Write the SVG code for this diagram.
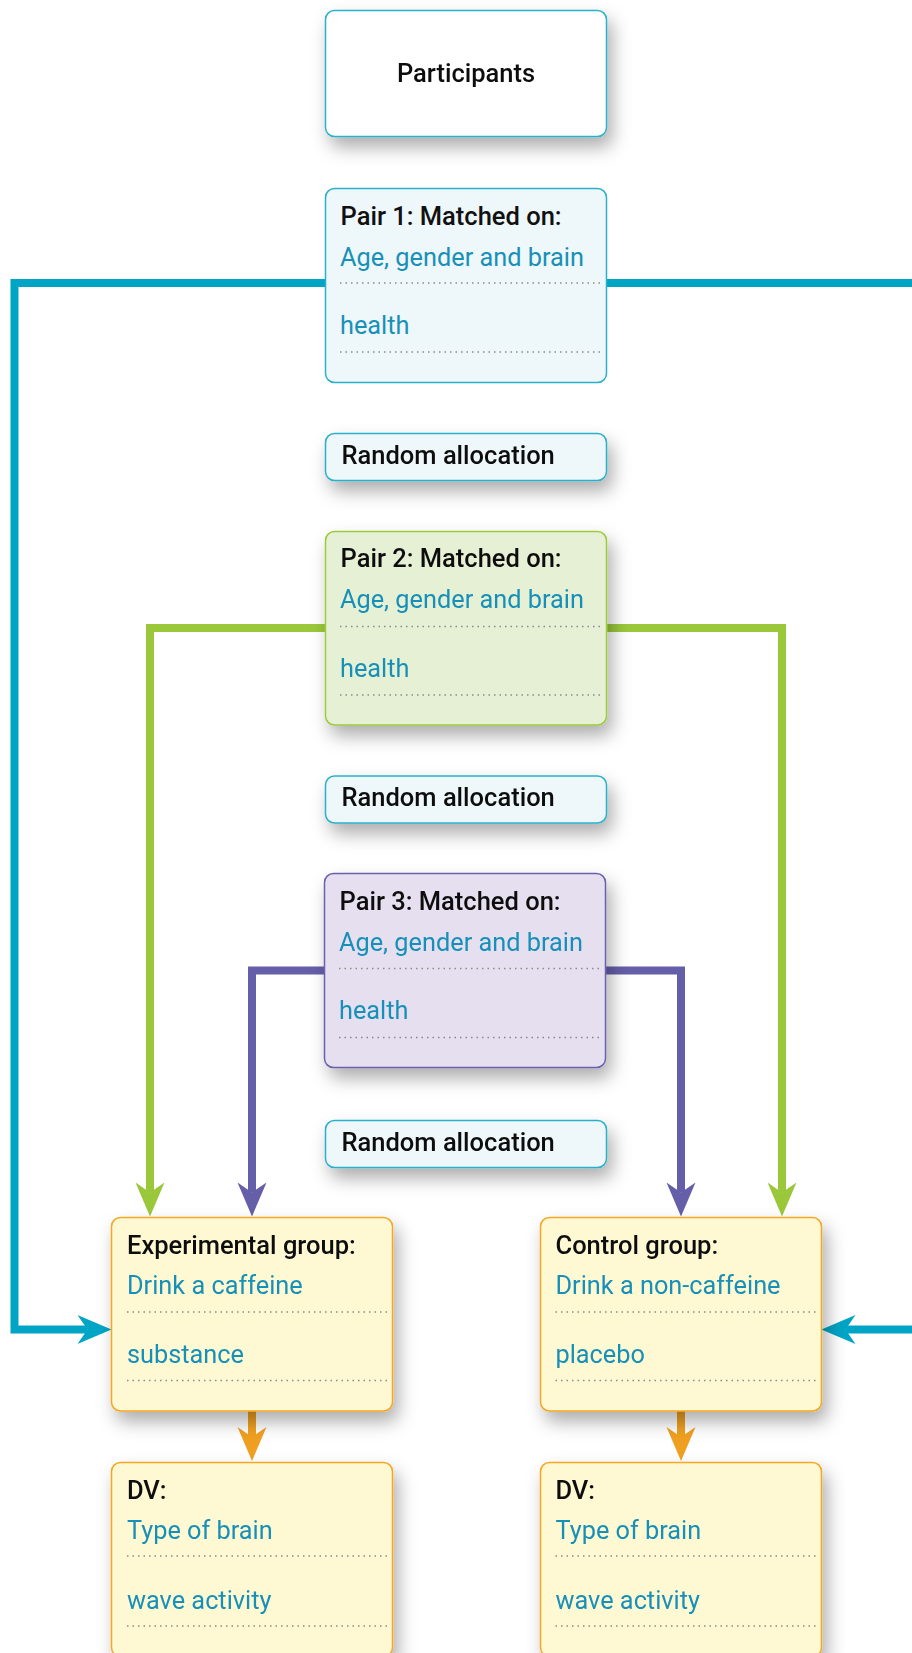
<svg xmlns="http://www.w3.org/2000/svg" width="912" height="1653" viewBox="0 0 912 1653">
  <style>
    .box { stroke-width: 1.5; }
    .teal-box { fill: #eef7f9; stroke: #2bb0cc; }
    .white-box { fill: #ffffff; stroke: #2bb0cc; }
    .green-box { fill: #e6f0d5; stroke: #9cc93f; }
    .purple-box { fill: #e6dff0; stroke: #6b60ad; }
    .yellow-box { fill: #fef9d3; stroke: #f5a623; }
    .title { font-family: Roboto, "Liberation Sans", sans-serif; font-weight: 500; font-size: 25.5px; fill: #111111; }
    .body { font-family: Roboto, "Liberation Sans", sans-serif; font-weight: 400; font-size: 25.3px; fill: #1890b8; }
    .dots { stroke: #8a8a8a; stroke-width: 1.5; stroke-dasharray: 1.5 4; fill: none; }
    .conn { fill: none; stroke-width: 8; stroke-linejoin: miter; }
    .c-teal { stroke: #00a5c6; }
    .c-green { stroke: #9ac83a; }
    .c-purple { stroke: #655ea9; }
    .c-orange { stroke: #f0a020; }
  </style>
  <defs>
    <!-- region spans the whole canvas so soft shadows are never cut off -->
    <filter id="shadow" filterUnits="userSpaceOnUse" x="0" y="0" width="912" height="1653">
      <feDropShadow dx="5" dy="10" stdDeviation="9" flood-color="#000000" flood-opacity="0.32"/>
    </filter>
    <marker id="arrow-teal" viewBox="0 -15 34 30" markerWidth="34" markerHeight="30" refX="10" refY="0" orient="auto" markerUnits="userSpaceOnUse">
      <path d="M0,-14.5 L34,0 L0,14.5 L10,0 Z" fill="#00a5c6"/>
    </marker>
    <marker id="arrow-green" viewBox="0 -15 34 30" markerWidth="34" markerHeight="30" refX="10" refY="0" orient="auto" markerUnits="userSpaceOnUse">
      <path d="M0,-14.5 L34,0 L0,14.5 L10,0 Z" fill="#9ac83a"/>
    </marker>
    <marker id="arrow-purple" viewBox="0 -15 34 30" markerWidth="34" markerHeight="30" refX="10" refY="0" orient="auto" markerUnits="userSpaceOnUse">
      <path d="M0,-14.5 L34,0 L0,14.5 L10,0 Z" fill="#655ea9"/>
    </marker>
    <marker id="arrow-orange" viewBox="0 -15 34 30" markerWidth="34" markerHeight="30" refX="10" refY="0" orient="auto" markerUnits="userSpaceOnUse">
      <path d="M0,-14.5 L34,0 L0,14.5 L10,0 Z" fill="#f0a020"/>
    </marker>
  </defs>

  <rect width="912" height="1653" fill="#ffffff"/>

  <!-- connectors -->
  <g id="connectors">
    <path class="conn c-teal" d="M325.5,283 H14.5 V1329.5 H87.5" marker-end="url(#arrow-teal)"/>
    <path class="conn c-teal" d="M606.5,283 H930 V1329.5 H845.5" marker-end="url(#arrow-teal)"/>
    <path class="conn c-green" d="M325.5,628 H150 V1192.5" marker-end="url(#arrow-green)"/>
    <path class="conn c-green" d="M606.5,628 H782 V1192.5" marker-end="url(#arrow-green)"/>
    <path class="conn c-purple" d="M324.5,970.5 H252 V1192.5" marker-end="url(#arrow-purple)"/>
    <path class="conn c-purple" d="M605.5,970.5 H681 V1192.5" marker-end="url(#arrow-purple)"/>
    <path class="conn c-orange" d="M252,1411 V1437" marker-end="url(#arrow-orange)"/>
    <path class="conn c-orange" d="M681,1411 V1437" marker-end="url(#arrow-orange)"/>
  </g>

  <!-- participants -->
  <g id="participants" filter="url(#shadow)">
    <rect class="box white-box" x="325.5" y="10.5" width="281" height="126" rx="9"/>
    <text class="title" x="466" y="82" text-anchor="middle">Participants</text>
  </g>

  <!-- pair 1 -->
  <g id="pair1">
    <rect class="box teal-box" x="325.5" y="188.5" width="281" height="194" rx="9"/>
    <text class="title" x="340.5" y="224.5">Pair 1: Matched on:</text>
    <text class="body" x="340" y="265.5">Age, gender and brain</text>
    <line class="dots" x1="340" y1="283" x2="602" y2="283"/>
    <text class="body" x="340" y="334">health</text>
    <line class="dots" x1="340" y1="352" x2="602" y2="352"/>
  </g>

  <g id="random1" filter="url(#shadow)">
    <rect class="box teal-box" x="325.5" y="433.5" width="281" height="47" rx="9"/>
    <text class="title" x="341.5" y="463.5">Random allocation</text>
  </g>

  <!-- pair 2 -->
  <g id="pair2" filter="url(#shadow)">
    <rect class="box green-box" x="325.5" y="531.5" width="281" height="193.5" rx="9"/>
    <text class="title" x="340.5" y="567">Pair 2: Matched on:</text>
    <text class="body" x="340" y="608">Age, gender and brain</text>
    <line class="dots" x1="340" y1="626.5" x2="602" y2="626.5"/>
    <text class="body" x="340" y="677">health</text>
    <line class="dots" x1="340" y1="695" x2="602" y2="695"/>
  </g>

  <g id="random2" filter="url(#shadow)">
    <rect class="box teal-box" x="325.5" y="776" width="281" height="47" rx="9"/>
    <text class="title" x="341.5" y="806">Random allocation</text>
  </g>

  <!-- pair 3 -->
  <g id="pair3" filter="url(#shadow)">
    <rect class="box purple-box" x="324.5" y="873.5" width="281" height="194" rx="9"/>
    <text class="title" x="339.5" y="909.5">Pair 3: Matched on:</text>
    <text class="body" x="339" y="950.5">Age, gender and brain</text>
    <line class="dots" x1="339" y1="968.5" x2="601" y2="968.5"/>
    <text class="body" x="339" y="1019">health</text>
    <line class="dots" x1="339" y1="1037.5" x2="601" y2="1037.5"/>
  </g>

  <g id="random3" filter="url(#shadow)">
    <rect class="box teal-box" x="325.5" y="1120.5" width="281" height="47" rx="9"/>
    <text class="title" x="341.5" y="1150.5">Random allocation</text>
  </g>

  <!-- groups -->
  <g id="experimental" filter="url(#shadow)">
    <rect class="box yellow-box" x="111.5" y="1217.5" width="281" height="193.5" rx="9"/>
    <text class="title" x="127" y="1253.5">Experimental group:</text>
    <text class="body" x="127" y="1294">Drink a caffeine</text>
    <line class="dots" x1="127" y1="1312" x2="388" y2="1312"/>
    <text class="body" x="127" y="1363">substance</text>
    <line class="dots" x1="127" y1="1380.5" x2="388" y2="1380.5"/>
  </g>

  <g id="control" filter="url(#shadow)">
    <rect class="box yellow-box" x="540.5" y="1217.5" width="281" height="193.5" rx="9"/>
    <text class="title" x="555.5" y="1253.5">Control group:</text>
    <text class="body" x="555.5" y="1294">Drink a non-caffeine</text>
    <line class="dots" x1="555.5" y1="1312" x2="817" y2="1312"/>
    <text class="body" x="555.5" y="1363">placebo</text>
    <line class="dots" x1="555.5" y1="1380.5" x2="817" y2="1380.5"/>
  </g>

  <!-- dependent variable -->
  <g id="dv-experimental" filter="url(#shadow)">
    <rect class="box yellow-box" x="111.5" y="1462.5" width="281" height="194" rx="9"/>
    <text class="title" x="127" y="1498.5">DV:</text>
    <text class="body" x="127" y="1538.5">Type of brain</text>
    <line class="dots" x1="127" y1="1556" x2="388" y2="1556"/>
    <text class="body" x="127" y="1608.5">wave activity</text>
    <line class="dots" x1="127" y1="1626" x2="388" y2="1626"/>
  </g>

  <g id="dv-control" filter="url(#shadow)">
    <rect class="box yellow-box" x="540.5" y="1462.5" width="281" height="194" rx="9"/>
    <text class="title" x="555.5" y="1498.5">DV:</text>
    <text class="body" x="555.5" y="1538.5">Type of brain</text>
    <line class="dots" x1="555.5" y1="1556" x2="817" y2="1556"/>
    <text class="body" x="555.5" y="1608.5">wave activity</text>
    <line class="dots" x1="555.5" y1="1626" x2="817" y2="1626"/>
  </g>
</svg>
